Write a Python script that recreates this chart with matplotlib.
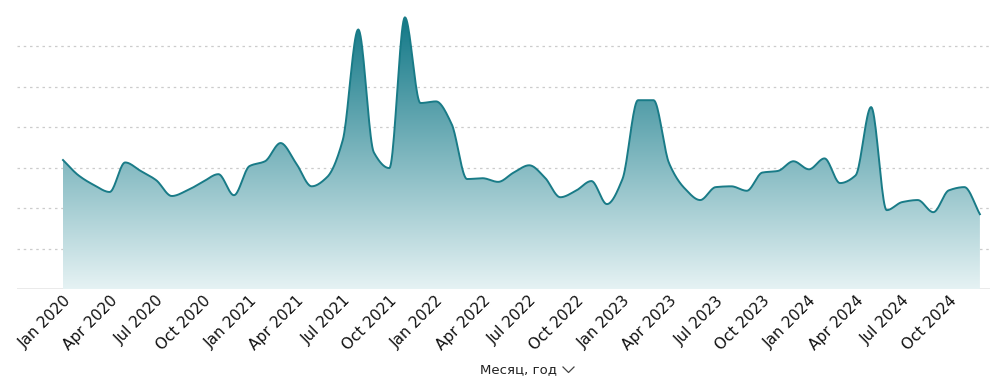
import numpy as np
import matplotlib
matplotlib.use("Agg")
import matplotlib.pyplot as plt
from matplotlib.lines import Line2D

# monthly values, Jan 2020 .. Dec 2024
months = [f"{m} {y}" for y in range(2020, 2025)
          for m in ["Jan", "Feb", "Mar", "Apr", "May", "Jun",
                    "Jul", "Aug", "Sep", "Oct", "Nov", "Dec"]]
values = [3.19, 2.81, 2.57, 2.40, 3.13, 2.92, 2.69, 2.30, 2.44, 2.65, 2.84, 2.32,
          3.04, 3.16, 3.61, 3.11, 2.54, 2.77, 3.68, 6.42, 3.38, 2.99, 6.72, 4.60,
          4.64, 4.09, 2.72, 2.74, 2.65, 2.88, 3.06, 2.76, 2.27, 2.43, 2.67, 2.10,
          2.72, 4.67, 4.67, 3.11, 2.49, 2.20, 2.52, 2.54, 2.43, 2.88, 2.92, 3.16,
          2.96, 3.23, 2.62, 2.81, 4.50, 1.95, 2.15, 2.20, 1.90, 2.44, 2.52, 1.85]
tick_step = 3
xlabel = "Месяц, год"


def monotone(x, y, n=20):
    # monotone cubic (Fritsch-Carlson) for a smooth line like d3 curveMonotoneX
    x = np.asarray(x, float)
    y = np.asarray(y, float)
    h = np.diff(x)
    d = np.diff(y) / h
    m = np.zeros_like(y)
    m[0], m[-1] = d[0], d[-1]
    for k in range(1, len(y) - 1):
        if d[k - 1] * d[k] <= 0:
            m[k] = 0
        else:
            w1 = 2 * h[k] + h[k - 1]
            w2 = h[k] + 2 * h[k - 1]
            m[k] = (w1 + w2) / (w1 / d[k - 1] + w2 / d[k])
    xs, ys = [], []
    for k in range(len(x) - 1):
        t = np.linspace(0, 1, n, endpoint=False)
        h00 = 2 * t**3 - 3 * t**2 + 1
        h10 = t**3 - 2 * t**2 + t
        h01 = -2 * t**3 + 3 * t**2
        h11 = t**3 - t**2
        xs.append(x[k] + t * h[k])
        ys.append(h00 * y[k] + h10 * h[k] * m[k] + h01 * y[k + 1] + h11 * h[k] * m[k + 1])
    xs.append([x[-1]])
    ys.append([y[-1]])
    return np.concatenate(xs), np.concatenate(ys)


x = np.arange(len(values))
xs, ys = monotone(x, values)

fig = plt.figure(figsize=(9.9, 3.83), dpi=100)
ax = fig.add_axes([17 / 990, 94 / 383, 973 / 990, 283 / 383])
ax.set_xlim(-2.96, 59.65)
ax.set_ylim(0, 7)

# gridlines
for g in range(1, 7):
    ax.axhline(g, color="#cccccc", lw=0.9, ls=(0, (2, 3)), zorder=0)
ax.axhline(0, color="#e6e6e6", lw=1.2, zorder=1)

# gradient fill clipped to the area
poly = ax.fill_between(xs, ys, 0, color="none", lw=0)
top = max(values)
grad = np.linspace(1, 0, 256).reshape(-1, 1)
c_top = np.array([0.07, 0.47, 0.53])
c_bot = np.array([0.90, 0.95, 0.955])
img = c_bot + (c_top - c_bot) * grad[..., None]
im = ax.imshow(img, extent=[x[0], x[-1], 0, top], aspect="auto", origin="upper", zorder=2)
path = poly.get_paths()[0]
im.set_clip_path(path, transform=ax.transData)

ax.plot(xs, ys, color="#197b87", lw=1.4, zorder=3)

ax.set_xticks(x[::tick_step])
ax.set_xticklabels(months[::tick_step], rotation=45, ha="right", rotation_mode="anchor",
                   fontsize=11, color="#111111")
ax.tick_params(axis="x", length=0, pad=3)
ax.set_yticks([])
for s in ax.spines.values():
    s.set_visible(False)

fig.text(519 / 990, 1 - 370 / 383, xlabel, ha="center", va="center", fontsize=9.5, color="#222222")
fig.add_artist(Line2D([563 / 990, 568.5 / 990, 574 / 990],
                      [1 - 367 / 383, 1 - 372.5 / 383, 1 - 367 / 383],
                      color="#444444", lw=0.9))

fig.savefig("out.png", dpi=100)
